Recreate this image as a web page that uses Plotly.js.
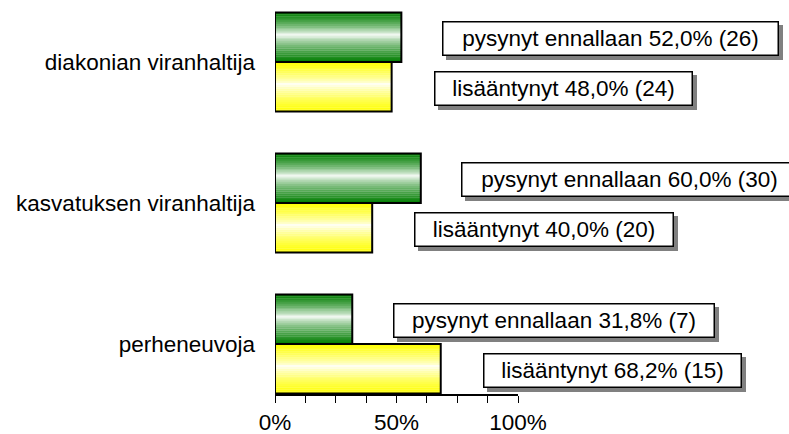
<!DOCTYPE html>
<html><head><meta charset="utf-8">
<script src="https://cdn.plot.ly/plotly-3.0.1.min.js"></script>
<style>html,body{margin:0;padding:0;background:#fff}#chart{width:789px;height:434px}</style>
</head><body><div id="chart"></div>
<script>
// ---- data ----
const categories = ['perheneuvoja', 'kasvatuksen viranhaltija', 'diakonian viranhaltija'];
const pysynytPct = [31.8, 60.0, 52.0];
const pysynytN = [7, 30, 26];
const lisaPct = [68.2, 40.0, 48.0];
const lisaN = [15, 20, 24];
const pysynytName = 'pysynyt ennallaan';
const lisaName = 'lisääntynyt';
const xTickVals = [0, 12.5, 25, 37.5, 50, 62.5, 75, 87.5, 100];
const xTickText = ['0%', '', '', '', '50%', '', '', '', '100%'];

// ---- layout helpers (positions / styles) ----
const FONT = 'Liberation Sans, Arial, sans-serif';
const FS = 22.5;
const barH = 0.351;
const NSTRIP = 26;
// label box centres, in paper fraction of the 0..100% axis width
const pysLabelX = [1.149, 1.459, 1.381];
const lisaLabelX = [1.389, 1.108, 1.188];
const pysLabelDy = 0.165, lisaLabelDy = -0.186;
const pysBoxW = [321, 336, 336];
const lisaBoxW = [258, 259, 258];
const boxH = 34;

function mix(base, f) {
  const c = base.map(v => Math.round(255 * (1 - f) + v * f));
  return 'rgb(' + c.join(',') + ')';
}
function profile(s) { // s: 0 top .. 1 bottom
  const mid = 0.45;
  let f = s < mid ? (mid - s) / mid : (s - mid) / (1 - mid);
  f = Math.min(1, f);
  return Math.pow(f, 0.7);
}
const traces = [];
function addBar(vals, base, off0) {
  const w = barH / NSTRIP;
  for (let i = 0; i < NSTRIP; i++) {
    const s = 1 - (i + 0.5) / NSTRIP; // from top
    traces.push({
      type: 'bar', orientation: 'h', x: vals, y: categories,
      offset: off0 + i * w - 0.001, width: w + 0.002,
      marker: { color: mix(base, profile(s)), line: { width: 0 } },
      hoverinfo: 'skip', showlegend: false
    });
  }
  traces.push({
    type: 'bar', orientation: 'h', x: vals, y: categories,
    offset: off0, width: barH,
    marker: { color: 'rgba(0,0,0,0)', line: { width: 2, color: '#000' } },
    hoverinfo: 'skip', showlegend: false
  });
}
addBar(pysynytPct, [0, 125, 0], 0);
addBar(lisaPct, [255, 255, 0], -barH);

function fmt(v) { return v.toFixed(1).replace('.', ',') + '%'; }
const annotations = [];
function addLabel(text, x, y, bw) {
  const common = {
    xref: 'paper', yref: 'y', x: x, y: y, xanchor: 'center', yanchor: 'middle',
    showarrow: false, width: bw - 4, height: boxH - 4, borderpad: 1,
    borderwidth: 1.5, align: 'center', font: { family: FONT, size: FS, color: '#000' }
  };
  // drop shadow box (no text)
  annotations.push(Object.assign({}, common, {
    text: '&nbsp;', bgcolor: '#808080', bordercolor: '#808080', xshift: 4, yshift: -4
  }));
  annotations.push(Object.assign({}, common, { text: text, bgcolor: '#fff', bordercolor: '#000' }));
}
categories.forEach((c, i) => {
  addLabel(pysynytName + ' ' + fmt(pysynytPct[i]) + ' (' + pysynytN[i] + ')', pysLabelX[i], i + pysLabelDy, pysBoxW[i]);
  addLabel(lisaName + ' ' + fmt(lisaPct[i]) + ' (' + lisaN[i] + ')', lisaLabelX[i], i + lisaLabelDy, lisaBoxW[i]);
});

const layout = {
  width: 789, height: 434,
  margin: { l: 275, r: 271, t: 0, b: 40 },
  paper_bgcolor: '#fff', plot_bgcolor: '#fff',
  barmode: 'overlay', showlegend: false,
  font: { family: FONT, size: FS, color: '#000' },
  xaxis: {
    range: [0, 100], showline: true, linewidth: 2, linecolor: '#000',
    ticks: 'outside', ticklen: 7, tickwidth: 1, tickcolor: '#000',
    tickvals: xTickVals, ticktext: xTickText, showgrid: false, zeroline: false,
    tickfont: { family: FONT, size: FS, color: '#000' }, fixedrange: true
  },
  yaxis: {
    type: 'category', categoryorder: 'array', categoryarray: categories,
    range: [-0.355, 2.44], showline: false, ticks: '', showgrid: false, zeroline: false,
    ticklabelstandoff: 19,
    tickfont: { family: FONT, size: FS, color: '#000' }, fixedrange: true
  },
  annotations: annotations
};
Plotly.newPlot('chart', traces, layout, { displayModeBar: false, staticPlot: true });
</script>
</body></html>
